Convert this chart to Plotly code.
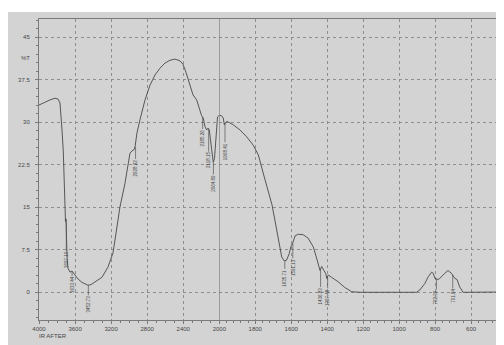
import plotly.graph_objects as go

# ---- data ----
wavenumber = [4000, 3956, 3878, 3823, 3789, 3767, 3756, 3745, 3731, 3723,
              3712, 3706, 3700, 3695, 3689, 3678, 3656, 3634, 3612, 3567,
              3523, 3479, 3457, 3423, 3379, 3301, 3235, 3179, 3157, 3124,
              3102, 3046, 3013, 2991, 2969, 2946, 2935, 2924, 2913, 2880,
              2824, 2769, 2713, 2658, 2603, 2547, 2492, 2436, 2403, 2370,
              2325, 2292, 2251, 2214, 2196, 2178, 2170, 2159, 2140, 2126,
              2111, 2100, 2084, 2067, 2053, 2042, 2031, 2020, 2000, 1987,
              1978, 1972, 1966, 1959, 1944, 1922, 1885, 1848, 1811, 1783,
              1756, 1728, 1707, 1691, 1672, 1653, 1639, 1626, 1611, 1602,
              1592, 1579, 1561, 1533, 1506, 1478, 1459, 1444, 1440, 1431,
              1422, 1407, 1403, 1394, 1376, 1339, 1302, 1264, 1218, 1107,
              996, 903, 885, 857, 838, 819, 810, 801, 783, 774,
              746, 728, 709, 690, 678, 663, 644, 400]
transmittance = [33.0, 33.35, 33.9, 34.2, 34.05, 33.35, 31.6, 28.6, 25.0, 19.8,
                 13.2, 12.4, 12.9, 9.2, 6.0, 4.2, 3.5, 3.7, 3.2, 2.3,
                 1.7, 1.3, 1.2, 1.3, 1.8, 2.6, 4.4, 6.9, 9.2, 12.7,
                 15.0, 19.2, 22.8, 24.5, 24.9, 25.1, 25.6, 26.8, 28.1, 30.4,
                 33.9, 36.5, 38.3, 39.5, 40.4, 40.9, 41.1, 40.8, 40.2, 38.8,
                 36.5, 34.8, 33.9, 32.1, 31.1, 30.7, 30.2, 29.2, 28.6, 28.9,
                 28.6, 27.2, 24.2, 22.9, 23.6, 26.8, 29.6, 30.9, 31.2, 31.1,
                 30.7, 29.5, 29.8, 30.1, 29.9, 29.5, 28.6, 27.4, 25.9, 24.2,
                 21.0, 18.0, 15.4, 12.7, 9.2, 6.2, 5.5, 5.6, 6.8, 8.0,
                 8.6, 9.9, 10.2, 10.1, 9.5, 8.0, 6.0, 4.5, 3.8, 4.5,
                 3.9, 3.2, 2.4, 3.0, 2.6, 1.8, 0.8, 0.05, -0.05, -0.05,
                 -0.05, -0.05, 0.35, 1.5, 2.7, 3.5, 3.3, 2.4, 2.2, 2.4,
                 3.3, 3.8, 3.3, 2.4, 2.2, 0.9, -0.05, 0.0]

peak_labels = ["3697.10", "3633.44", "3452.73", "2928.92", "2185.26", "2118.15",
               "2064.89", "1968.41", "1635.71", "1591.13", "1436.83", "1397.48",
               "792.36", "701.84"]
peak_T = [12.4, 3.7, 1.2, 25.6, 30.9, 28.9, 22.9, 29.8, 5.5, 8.6, 3.9, 2.6, 2.3, 3.0]

x_ticks_hi = [4000, 3600, 3200, 2800, 2400]
x_ticks_lo = [2000, 1800, 1600, 1400, 1200, 1000, 800, 600, 400]
y_ticks = [0, 7.5, 15, 22.5, 30, 37.5, 45]

# ---- styling ----
label_offsets = [38, 14, 19, 21, 21, 32, 21, 28, 17, 24, 26, 20, 18, 21]
BG = "#d3d3d3"
INK = "#474747"
GRID = "#8e8e8e"
AXC = "#7a7a7a"
FONT = dict(family="Liberation Sans, Arial, sans-serif", size=6, color=INK)

W, H = 504, 345
ML, MR, MT, MB = 31, 5, 11, 33
PW = W - ML - MR
PH = H - MT - MB
split = 180.3 / PW

hi_idx = [i for i, w in enumerate(wavenumber) if w >= 2000]
lo_idx = [i for i, w in enumerate(wavenumber) if w <= 2000]

fig = go.Figure()
fig.add_trace(go.Scatter(x=[wavenumber[i] for i in hi_idx], y=[transmittance[i] for i in hi_idx],
                         xaxis="x", yaxis="y", mode="lines",
                         line=dict(color=INK, width=0.9), hoverinfo="skip", showlegend=False))
fig.add_trace(go.Scatter(x=[wavenumber[i] for i in lo_idx], y=[transmittance[i] for i in lo_idx],
                         xaxis="x2", yaxis="y", mode="lines",
                         line=dict(color=INK, width=0.9), hoverinfo="skip", showlegend=False))

axis_common = dict(showline=True, linecolor=AXC, linewidth=1, mirror=True,
                   ticks="outside", ticklen=3, tickcolor=AXC, tickwidth=0.8,
                   showgrid=True, gridcolor=GRID, gridwidth=0.8, griddash="3px,3px",
                   zeroline=False, tickfont=FONT)

fig.update_layout(
    width=W, height=H,
    margin=dict(l=ML, r=MR, t=MT, b=MB, pad=0),
    paper_bgcolor=BG, plot_bgcolor=BG,
    font=FONT,
    xaxis=dict(domain=[0, split], range=[4000, 2000], anchor="y",
               tickvals=x_ticks_hi, ticktext=[str(v) for v in x_ticks_hi],
               minor=dict(dtick=100, tick0=0, ticks="outside", ticklen=2,
                          tickcolor=AXC, showgrid=False),
               **axis_common),
    xaxis2=dict(domain=[split, 1], range=[2000, 400], anchor="y",
                tickvals=x_ticks_lo, ticktext=[str(v) for v in x_ticks_lo],
                minor=dict(dtick=40, tick0=0, ticks="outside", ticklen=2,
                           tickcolor=AXC, showgrid=False),
                **axis_common),
    yaxis=dict(range=[-4.94, 48.18], anchor="x",
               tickvals=y_ticks, ticktext=[("%g" % v) for v in y_ticks],
               ticklabelstandoff=4,
               minor=dict(dtick=1.5, tick0=0, ticks="outside", ticklen=2,
                          tickcolor=AXC, showgrid=False),
               **{k: v for k, v in axis_common.items() if k != "mirror"}),
)

shapes = [
    # solid scale-change line at 2000
    dict(type="line", xref="x2", yref="paper", x0=2000, x1=2000, y0=0, y1=1,
         line=dict(color="#6f6f6f", width=1)),
    # thin white scanner strip at the top
    dict(type="rect", xref="paper", yref="paper", x0=-ML / PW - 0.01, x1=1 + MR / PW + 0.01,
         y0=(PH + MT - 4) / PH, y1=(PH + MT) / PH + 0.01,
         fillcolor="white", line=dict(width=0), layer="above"),
]
fig.update_layout(shapes=shapes)

ann = []
for lab, t, off in zip(peak_labels, peak_T, label_offsets):
    w = float(lab)
    ann.append(dict(x=w, y=t, xref="x" if w >= 2000 else "x2", yref="y",
                    text=lab, textangle=-90, showarrow=True, arrowhead=0,
                    arrowwidth=0.7, arrowcolor="#555555", ax=0, ay=off,
                    standoff=0, borderpad=0,
                    font=dict(family=FONT["family"], size=4.5, color=INK)))
ann.append(dict(x=0, y=41.25, xref="paper", yref="y", text="%T", showarrow=False,
                xanchor="right", xshift=-7, font=FONT))
ann.append(dict(x=0, y=-16 / PH, xref="paper", yref="paper", text="IR AFTER",
                showarrow=False, xanchor="left", yanchor="middle", xshift=-2, font=FONT))
ann.append(dict(x=1, y=-17 / PH, xref="paper", yref="paper", text="1/cm",
                showarrow=False, xanchor="left", yanchor="middle", xshift=-10, font=FONT))
fig.update_layout(annotations=ann)

fig.write_html("out.html")
